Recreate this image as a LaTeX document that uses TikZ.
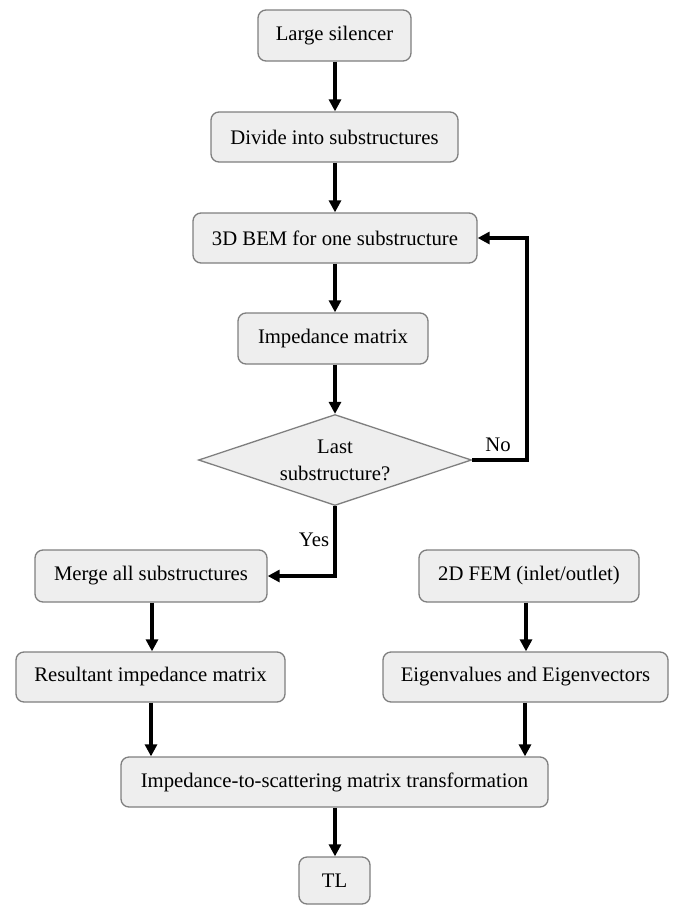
\documentclass[tikz,border=0pt]{standalone}
\usepackage{fontspec}
\setmainfont{Liberation Serif}
\usetikzlibrary{shapes.geometric,arrows.meta,calc}
\definecolor{boxfill}{HTML}{EEEEEE}
\definecolor{boxline}{HTML}{7F7F7F}
\begin{document}
\begin{tikzpicture}[x=1pt,y=-1pt,
  stepbox/.style={draw=boxline,fill=boxfill,line width=1.3pt,rounded corners=8pt,
    inner sep=0pt,font=\fontsize{20.7}{27}\selectfont},
  decide/.style={draw=boxline,fill=boxfill,line width=1.3pt,diamond,aspect=3,
    inner sep=0pt,align=center,font=\fontsize{20.7}{27}\selectfont},
  flow/.style={line width=3.5pt,-{Triangle[length=12pt,width=12pt]}},
  lbl/.style={font=\fontsize{20.7}{27}\selectfont}]
\useasboundingbox (0,0) rectangle (673,905);
\node[stepbox,minimum width=153pt,minimum height=51pt] (ls) at (334.5,35.5) {Large silencer};
\node[stepbox,minimum width=247pt,minimum height=50pt] (div) at (334.5,137) {Divide into substructures};
\node[stepbox,minimum width=284pt,minimum height=50pt] (bem) at (335,238) {3D BEM for one substructure};
\node[stepbox,minimum width=190pt,minimum height=51pt] (imp) at (333,338.5) {Impedance matrix};
\node[decide,minimum width=273pt,minimum height=91pt] (dia) at (335,460) {Last\\substructure?};
\node[stepbox,minimum width=232pt,minimum height=52pt] (merge) at (151,576) {Merge all\ substructures};
\node[stepbox,minimum width=269pt,minimum height=50pt] (res) at (150.5,677) {Resultant impedance matrix};
\node[stepbox,minimum width=220pt,minimum height=52pt] (fem) at (529,576) {2D FEM (inlet/outlet)};
\node[stepbox,minimum width=285pt,minimum height=50pt] (eig) at (525.5,677) {Eigenvalues\ and Eigenvectors};
\node[stepbox,minimum width=427pt,minimum height=50pt] (its) at (334.5,782) {Impedance-to-scattering matrix transformation};
\node[stepbox,minimum width=71pt,minimum height=47pt] (tl) at (334.5,880.5) {TL};
\coordinate (noc) at (527,460);
\coordinate (yesc) at (335,577);
\draw[flow] (ls.south -| 335,0) -- (div.north -| 335,0);
\draw[flow] (div.south -| 335,0) -- (bem.north -| 335,0);
\draw[flow] (bem.south -| 335,0) -- (imp.north -| 335,0);
\draw[flow] (imp.south -| 335,0) -- (dia.north);
\draw[flow,line cap=butt] (dia.east) -| (noc) |- (bem.east);
\draw[flow] (dia.south) |- (merge.east);
\draw[flow] (merge.south -| 152,0) -- (res.north -| 152,0);
\draw[flow] (fem.south -| 526,0) -- (eig.north -| 526,0);
\draw[flow] (res.south -| 151,0) -- (its.north -| 151,0);
\draw[flow] (eig.south -| 525,0) -- (its.north -| 525,0);
\draw[flow] (its.south -| 335,0) -- (tl.north -| 335,0);
\node[lbl] (no) at (498,445) {No};
\node[lbl] (yes) at (314,540) {Yes};
\end{tikzpicture}
\end{document}
